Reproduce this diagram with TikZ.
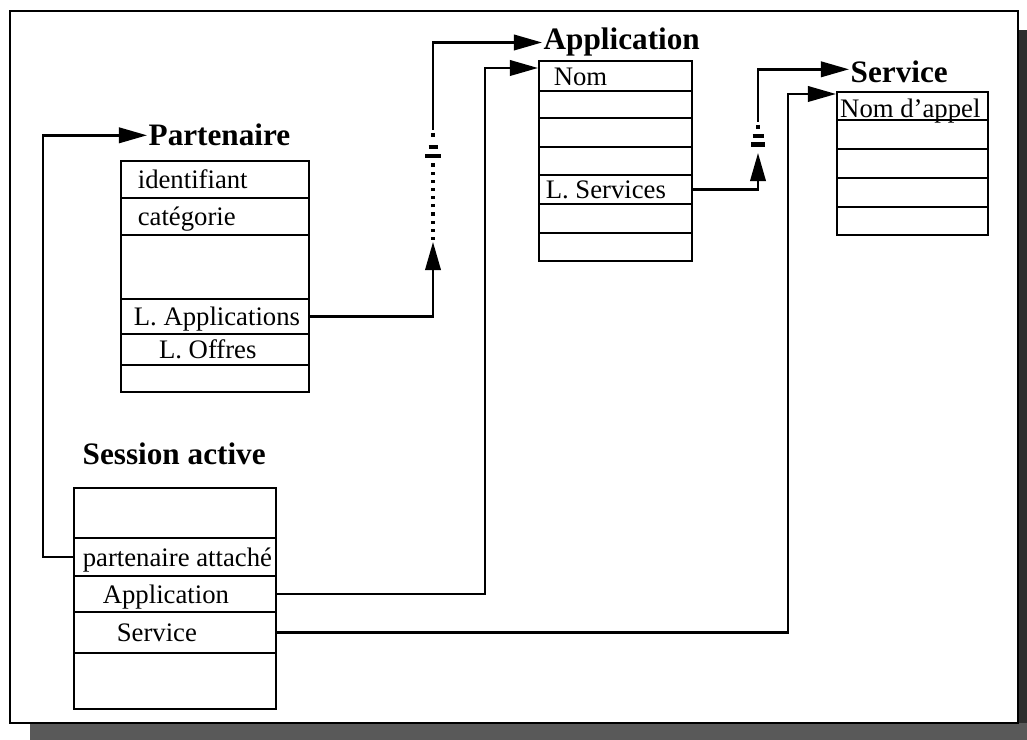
\documentclass[tikz,border=0pt]{standalone}
\usepackage{fontspec}
\setmainfont{Liberation Serif}
\usetikzlibrary{arrows.meta,calc}
\tikzset{
  rowbox/.style={draw, line width=1.45pt, anchor=north west, inner sep=0pt,
    text height=13pt, text depth=0pt, font=\fontsize{19}{21}\selectfont},
  titletext/.style={anchor=base west, inner xsep=1pt, inner ysep=0pt,
    font=\fontsize{22.2}{24}\selectfont\bfseries},
  conn/.style={line width=1.7pt, -{Triangle[length=20pt,width=11pt]}},
  dotline/.style={line width=2.2pt, dash pattern=on 2.2pt off 3.6pt},
  breakmark/.style={line width=3.2pt},
  frame/.style={line width=1.6pt},
  shadowb/.style={fill=black!65, draw=none},
  shadowr/.style={fill=black!82, draw=none}
}
\newcommand{\rowtext}[3]{\makebox[#1][l]{\hspace*{#2}#3}}
\begin{document}
\begin{tikzpicture}[x=0.025cm, y=-0.025cm]
\useasboundingbox (0,0) rectangle (1027,740);
% frame and shadow
\fill[shadowb] (30,723) rectangle (1027,740);
\fill[shadowr] (1018,30) rectangle (1027,723);
\draw[frame] (10,11) rectangle (1018,723);

% ---------- Partenaire ----------
\node[titletext] (ptitle) at (147,146) {Partenaire};
\node[rowbox, minimum height=0.925cm] (p1) at (120,160) {\rowtext{4.7cm}{0.42cm}{identifiant}};
\node[rowbox, minimum height=0.925cm] (p2) at (120,197) {\rowtext{4.7cm}{0.42cm}{catégorie}};
\node[rowbox, minimum height=1.6cm]   (p3) at (120,234) {\rowtext{4.7cm}{0cm}{}};
\node[rowbox, minimum height=0.875cm] (p4) at (120,298) {\rowtext{4.7cm}{0.32cm}{L. Applications}};
\node[rowbox, minimum height=0.775cm] (p5) at (120,333) {\rowtext{4.7cm}{0.95cm}{L. Offres}};
\node[rowbox, minimum height=0.675cm] (p6) at (120,364) {\rowtext{4.7cm}{0cm}{}};

% ---------- Application ----------
\node[titletext] (atitle) at (542,50) {Application};
\node[rowbox, minimum height=0.75cm]  (a1) at (538,60)  {\rowtext{3.825cm}{0.37cm}{Nom}};
\node[rowbox, minimum height=0.675cm] (a2) at (538,90)  {\rowtext{3.825cm}{0cm}{}};
\node[rowbox, minimum height=0.725cm] (a3) at (538,117) {\rowtext{3.825cm}{0cm}{}};
\node[rowbox, minimum height=0.7cm]   (a4) at (538,146) {\rowtext{3.825cm}{0cm}{}};
\node[rowbox, minimum height=0.725cm] (a5) at (538,174) {\rowtext{3.825cm}{0.17cm}{L. Services}};
\node[rowbox, minimum height=0.725cm] (a6) at (538,203) {\rowtext{3.825cm}{0cm}{}};
\node[rowbox, minimum height=0.7cm]   (a7) at (538,232) {\rowtext{3.825cm}{0cm}{}};

% ---------- Service ----------
\node[titletext] (stitle) at (849,83) {Service};
\node[rowbox, minimum height=0.7cm]   (v1) at (836,91)  {\rowtext{3.775cm}{0.08cm}{\raisebox{-2pt}{Nom d’appel}}};
\node[rowbox, minimum height=0.725cm] (v2) at (836,119) {\rowtext{3.775cm}{0cm}{}};
\node[rowbox, minimum height=0.725cm] (v3) at (836,148) {\rowtext{3.775cm}{0cm}{}};
\node[rowbox, minimum height=0.725cm] (v4) at (836,177) {\rowtext{3.775cm}{0cm}{}};
\node[rowbox, minimum height=0.7cm]   (v5) at (836,206) {\rowtext{3.775cm}{0cm}{}};

% ---------- Session active ----------
\node[titletext] (stit) at (81,465) {Session active};
\node[rowbox, minimum height=1.25cm]  (s1) at (73,487) {\rowtext{5.05cm}{0cm}{}};
\node[rowbox, minimum height=0.95cm]  (s2) at (73,537) {\rowtext{5.05cm}{0.22cm}{partenaire attaché}};
\node[rowbox, minimum height=0.9cm]   (s3) at (73,575) {\rowtext{5.05cm}{0.72cm}{Application}};
\node[rowbox, minimum height=1.025cm] (s4) at (73,611) {\rowtext{5.05cm}{1.07cm}{Service}};
\node[rowbox, minimum height=1.4cm]   (s5) at (73,652) {\rowtext{5.05cm}{0cm}{}};

% ---------- connectors ----------
% partenaire attaché -> Partenaire
\draw[conn] (s2.west) -- ++(-30,0) |- (ptitle.west);

% L. Applications -> Application (broken link)
\coordinate (b1) at (433,242);
\coordinate (b1top) at (433,130);
\draw[conn] (p4.east) -| (b1);
\draw[dotline] (433,240) -- (433,163);
\draw[breakmark] (433,133) -- (433,137.5);
\draw[breakmark] (428.5,147) -- (437.5,147);
\draw[breakmark] (425,156) -- (441,156);
\draw[conn] (b1top) |- (atitle.west);

% session Application -> Application box
\coordinate (atip) at (538,68);
\draw[conn] (s3.east) -| ($(atip)+(-53,0)$) -- (atip);

% L. Services -> Service (broken link)
\coordinate (b2) at (758,153);
\coordinate (b2top) at (758,122);
\draw[conn] (a5.east) -| (b2);
\draw[breakmark] (758,125) -- (758,129.5);
\draw[breakmark] (752.5,136) -- (763.5,136);
\draw[breakmark] (751,144.5) -- (765,144.5);
\draw[conn] (b2top) |- ($(stitle.west)+(0,-3)$);

% session Service -> Service box
\coordinate (vtip) at (836,94);
\draw[conn] (s4.east) -| ($(vtip)+(-48,0)$) -- (vtip);
\end{tikzpicture}
\end{document}
